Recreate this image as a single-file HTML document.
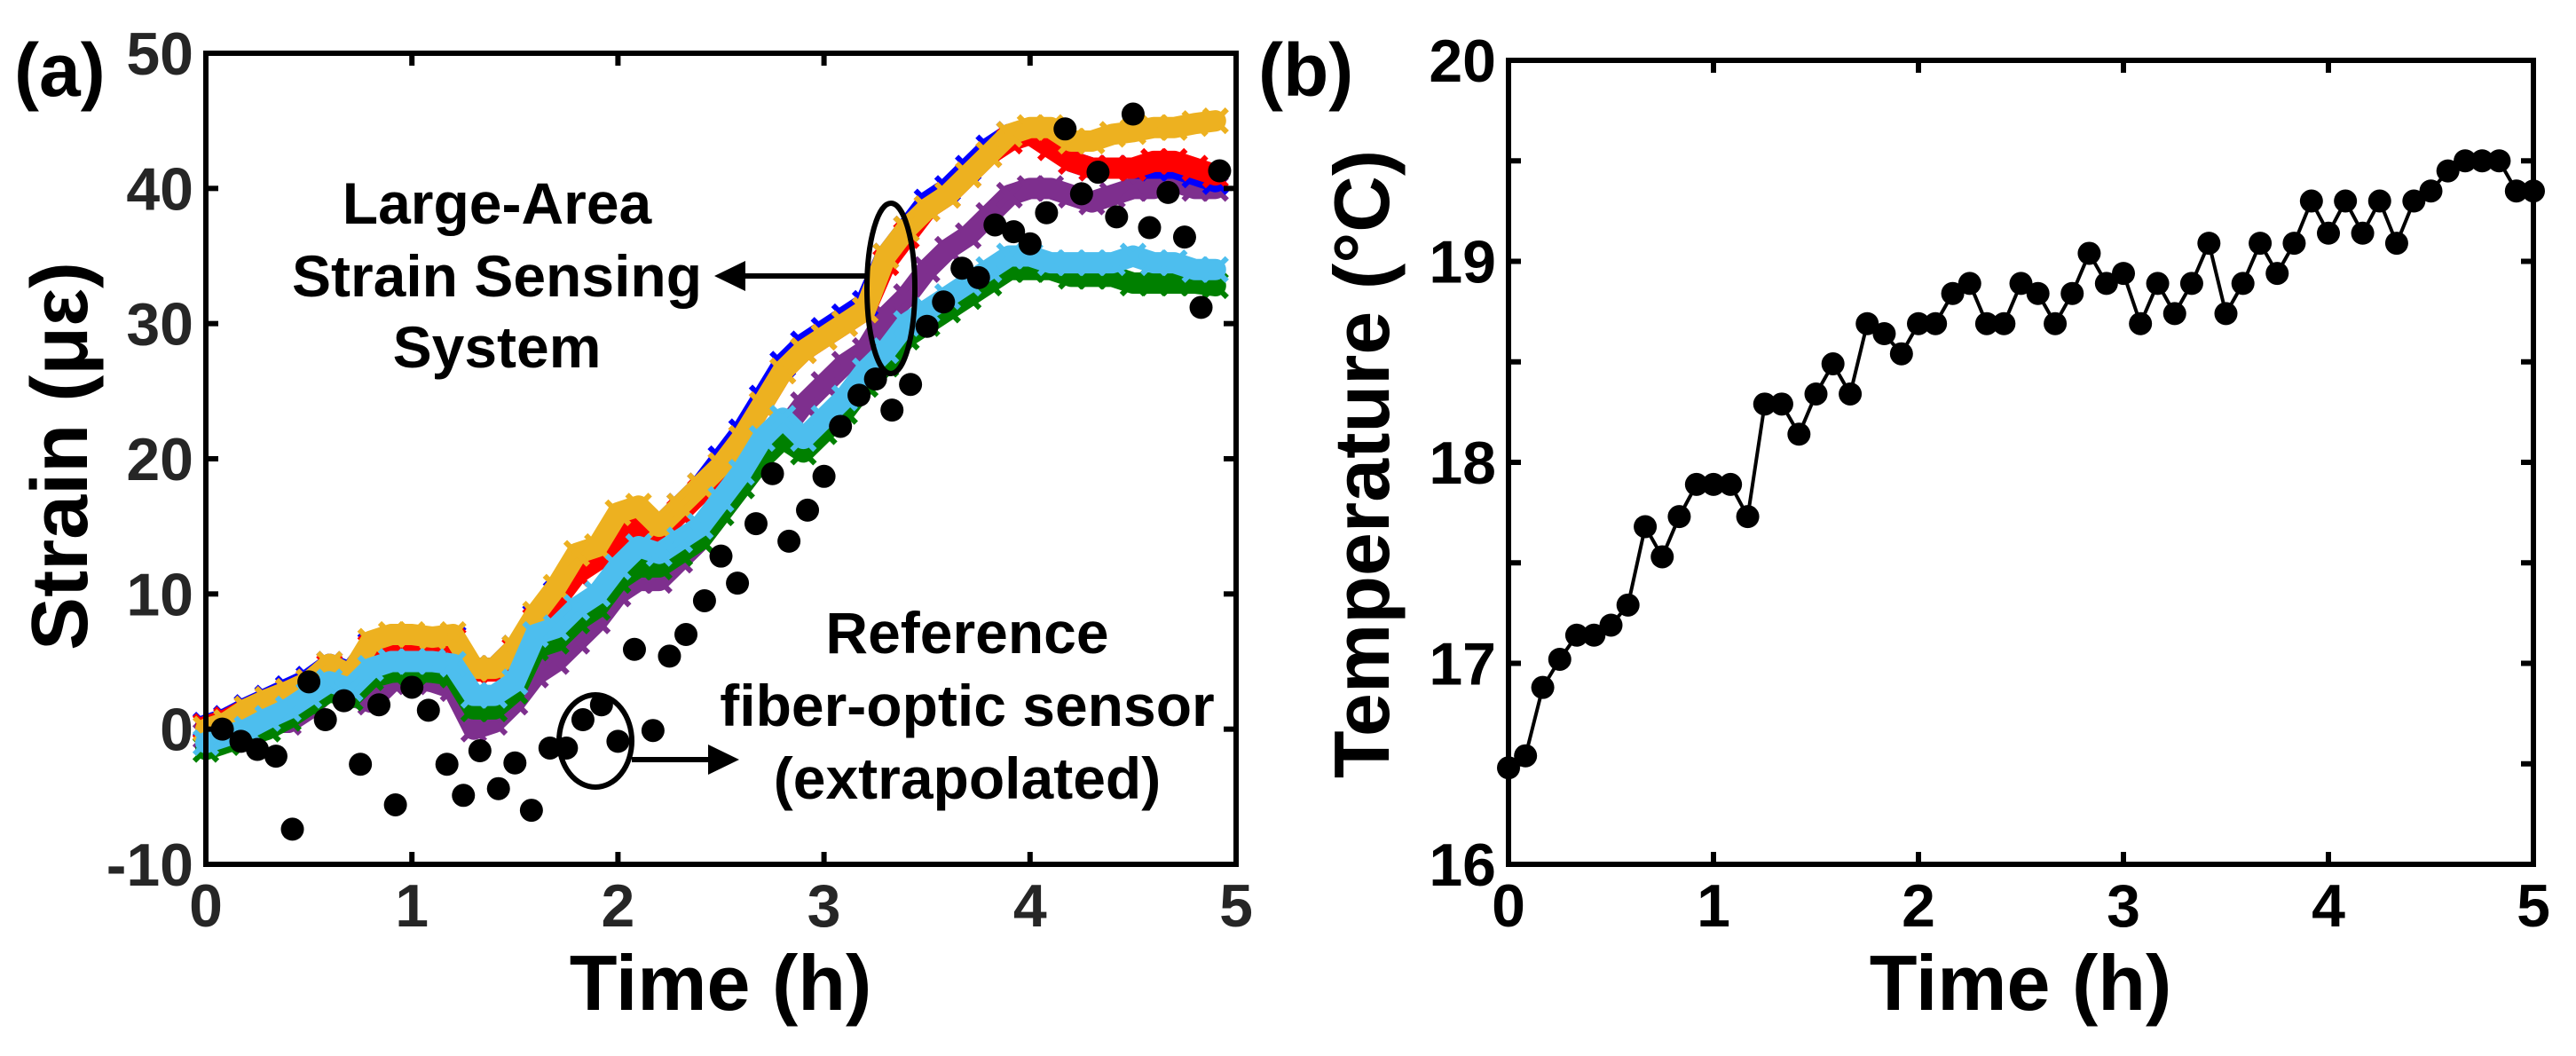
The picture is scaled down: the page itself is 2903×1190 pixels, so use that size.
<!DOCTYPE html>
<html><head><meta charset="utf-8"><style>
html,body{margin:0;padding:0;background:#fff;}
svg{display:block;font-family:"Liberation Sans",Arial,sans-serif;font-weight:bold;}
</style></head><body>
<svg id="fig" width="2903" height="1190" viewBox="0 0 2903 1190" xmlns="http://www.w3.org/2000/svg">
<g id="pa"></g>
<g id="pb"></g>
</svg>
<script>
const xTicks = [0,1,2,3,4,5];
const strainTicks = [-10,0,10,20,30,40,50];
const tempTicks = [16,17,18,19,20];
const tempMinor = [16.5,17.5,18.5,19.5];
const tSeries = [0,0.1,0.2,0.3,0.4,0.5,0.6,0.7,0.8,0.9,1.0,1.1,1.2,1.3,1.4,1.5,1.6,1.7,1.8,1.9,2.0,2.1,2.2,2.3,2.4,2.5,2.6,2.7,2.8,2.9,3.0,3.1,3.2,3.3,3.4,3.5,3.6,3.7,3.8,3.9,4.0,4.1,4.2,4.3,4.4,4.5,4.6,4.7,4.8,4.9];
const orangeVals = [0,0.5,1.5,2.2,2.8,3.5,4.8,4,6.5,7,7,6.8,7,4.5,4.5,6,8.5,10.5,13,13.5,16,16.5,15,16.5,18,19.5,21.5,24,26.5,28,29,30,31,35,37,38.5,39.5,41,42.5,44,44.5,44.5,43.5,43.5,44,44.2,44.5,44.5,44.8,45];
const redVals = [0.2,0.7,1.5,2.2,2.8,3.5,4.6,4,6,6.5,6.5,6.3,6.5,4.3,4.3,5.8,8,9.5,11.5,12.5,14,15,14.5,16,17.5,19.5,21.5,24,26.5,28,29,30,31,34.5,36.5,38.5,39.5,41,42.5,43.5,44,43,42,41.5,41.5,41.5,42,42,41.5,41];
const blueVals = [0.3,0.8,1.6,2.3,3,3.7,4.8,4.2,6.2,6.7,6.8,6.5,6.7,4.5,4.5,6,8.3,10,12,13,14.5,15.3,15,16.5,18,20,22,24.5,27,28.5,29.5,30.5,31.5,35,37,39,40,41.5,43,44,44,43.5,42,41.5,41.5,41.5,41.5,41.5,41,40.5];
const purpleVals = [-0.5,-0.3,0,0.5,0.5,1.5,3,2.5,2,3.5,3.8,3.5,3,0,0.5,2,4,5,6.5,8,10,11,11,12.5,14,16,18,20,22,24,25.5,27,28,30.5,32,34,35.5,36.5,38,39.5,40,40,39.5,39,39.5,40,40,40.5,40,40];
const cyanVals = [-1,-0.5,0,0.8,1.5,2.5,3.5,3,4.5,5,5,5,4.8,2.5,2.5,3.5,7,7.5,9,10,12,13.5,13,14,15,17,19,21.5,23,21.5,23,24.5,26.5,28,30,31,32,33,34,35,35,34.5,34.5,34.5,34.5,35,34.5,34.5,34,34];
const greenVals = [-1.5,-1,-0.5,0,0.8,1.8,2.8,2.3,3.8,4.2,4.3,4.2,4,1.5,1.5,2.8,6,6.5,8,9,11,12,12,13,14,16,18,20,21.5,20.5,22,23.5,25.5,27,29,30,31,32,33,34,34,34,33.5,33.5,33.5,33,33,33,33,32.8];
const refTimes = [0.08,0.17,0.25,0.34,0.42,0.5,0.58,0.67,0.75,0.84,0.92,1.0,1.08,1.17,1.25,1.33,1.42,1.5,1.58,1.67,1.75,1.83,1.92,2.0,2.08,2.17,2.25,2.33,2.42,2.5,2.58,2.67,2.75,2.83,2.92,3.0,3.08,3.17,3.25,3.33,3.42,3.5,3.58,3.67,3.75,3.83,3.92,4.0,4.08,4.17,4.25,4.33,4.42,4.5,4.58,4.67,4.75,4.83,4.92];
const refVals = [0,-0.9,-1.5,-2,-7.4,3.5,0.7,2.1,-2.6,1.8,-5.6,3.1,1.4,-2.6,-4.9,-1.6,-4.4,-2.5,-6,-1.4,-1.4,0.7,1.8,-0.9,5.9,-0.1,5.4,7,9.5,12.8,10.8,15.2,18.9,13.9,16.2,18.7,22.4,24.7,25.9,23.6,25.5,29.8,31.6,34.1,33.4,37.3,36.8,35.9,38.2,44.4,39.6,41.2,37.9,45.5,37.1,39.7,36.4,31.2,41.3];
const tempTimes = [0,0.083,0.167,0.25,0.333,0.417,0.5,0.583,0.667,0.75,0.833,0.917,1,1.083,1.167,1.25,1.333,1.417,1.5,1.583,1.667,1.75,1.833,1.917,2,2.083,2.167,2.25,2.333,2.417,2.5,2.583,2.667,2.75,2.833,2.917,3,3.083,3.167,3.25,3.333,3.417,3.5,3.583,3.667,3.75,3.833,3.917,4,4.083,4.167,4.25,4.333,4.417,4.5,4.583,4.667,4.75,4.833,4.917,5];
const tempVals = [16.48,16.54,16.88,17.02,17.14,17.14,17.19,17.29,17.68,17.53,17.73,17.89,17.89,17.89,17.73,18.29,18.29,18.14,18.34,18.49,18.34,18.69,18.64,18.54,18.69,18.69,18.84,18.89,18.69,18.69,18.89,18.84,18.69,18.84,19.04,18.89,18.94,18.69,18.89,18.74,18.89,19.09,18.74,18.89,19.09,18.94,19.09,19.30,19.14,19.30,19.14,19.30,19.09,19.30,19.35,19.45,19.50,19.50,19.50,19.35,19.35];

const NS='http://www.w3.org/2000/svg';
function mk(parent,tag,attrs,text){const e=document.createElementNS(NS,tag);for(const k in attrs)e.setAttribute(k,attrs[k]);if(text!==undefined)e.textContent=text;parent.appendChild(e);return e;}

const A={l:232,r:1393,t:60,b:974,x0:0,x1:5,y0:-10,y1:50};
const B={l:1700,r:2855,t:68,b:974,x0:0,x1:5,y0:16,y1:20};
function sx(P,v){return P.l+(v-P.x0)/(P.x1-P.x0)*(P.r-P.l);}
function sy(P,v){return P.b-(v-P.y0)/(P.y1-P.y0)*(P.b-P.t);}

const pa=document.getElementById('pa');
const pb=document.getElementById('pb');

const seriesList=[
 ['purple-series','#7E2F8E',purpleVals],
 ['green-series','#008000',greenVals],
 ['blue-series','#0000FF',blueVals],
 ['red-series','#FF0000',redVals],
 ['orange-series','#EDB120',orangeVals],
 ['lightblue-series','#4DBEEE',cyanVals]
];
seriesList.forEach(s=>{
 const g=mk(pa,'g',{});
 
 
 const pts=tSeries.map((t,i)=>sx(A,t)+','+sy(A,s[2][i])).join(' ');
 const pl=mk(g,'polyline',{points:pts,fill:'none',stroke:s[1],'stroke-width':24,'stroke-linejoin':'round','stroke-linecap':'round'});
 
 
 tSeries.forEach((t,i)=>{
  const x=sx(A,t),y=sy(A,s[2][i]),d=13;
  const m=mk(g,'path',{d:`M${x-d},${y-d}L${x+d},${y+d}M${x-d},${y+d}L${x+d},${y-d}`,stroke:s[1],'stroke-width':6,fill:'none'});
  
  
 });
});
const rg=mk(pa,'g',{});


refTimes.forEach((t,i)=>{
 const c=mk(rg,'circle',{cx:sx(A,t),cy:sy(A,refVals[i]),r:13,fill:'#000'});
 
 
});

function axes(P,parent,yt,minorY,tickColor){
 const f=mk(parent,'rect',{x:P.l,y:P.t,width:P.r-P.l,height:P.b-P.t,fill:'none',stroke:'#000','stroke-width':6});
 
 
 const tl=14;
 xTicks.forEach(v=>{
  const x=sx(P,v);
  if(v>P.x0&&v<P.x1){
   mk(parent,'line',{x1:x,y1:P.b,x2:x,y2:P.b-tl,stroke:'#000','stroke-width':6});
   mk(parent,'line',{x1:x,y1:P.t,x2:x,y2:P.t+tl,stroke:'#000','stroke-width':6});
  }
  const t=mk(parent,'text',{x:x,y:P.b+70,'text-anchor':'middle','font-size':68,fill:tickColor},String(v));
  
  
 });
 yt.concat(minorY).forEach(v=>{
  const y=sy(P,v);
  if(v>P.y0&&v<P.y1){
   mk(parent,'line',{x1:P.l,y1:y,x2:P.l+tl,y2:y,stroke:'#000','stroke-width':6});
   mk(parent,'line',{x1:P.r,y1:y,x2:P.r-tl,y2:y,stroke:'#000','stroke-width':6});
  }
 });
 yt.forEach(v=>{
  const t=mk(parent,'text',{x:P.l-14,y:sy(P,v)+24,'text-anchor':'end','font-size':68,fill:tickColor},String(v));
  
  
 });
}
axes(A,pa,strainTicks,[],'#262626');

let t;
t=mk(pa,'text',{x:812,y:1138,'text-anchor':'middle','font-size':88,fill:'#000'},'Time (h)');


t=mk(pa,'text',{x:0,y:0,'text-anchor':'middle','font-size':90,fill:'#000',transform:'translate(98,514) rotate(-90)'},'Strain (με)');


{
 const L=t.getComputedTextLength();
 if(L>0){ t.setAttribute('transform','translate(98,514) rotate(-90) scale('+(438/L)+',1)'); }
}
t=mk(pa,'text',{x:16,y:108,'font-size':84,fill:'#000'},'(a)');



const ann=mk(pa,'g',{});


[['Large-Area',252],['Strain Sensing',334],['System',414]].forEach(l=>{
 const e=mk(ann,'text',{x:560,y:l[1],'text-anchor':'middle','font-size':66,fill:'#000'},l[0]);
 
 
});
[['Reference',736],['fiber-optic sensor',818],['(extrapolated)',900]].forEach(l=>{
 const e=mk(ann,'text',{x:1090,y:l[1],'text-anchor':'middle','font-size':66,fill:'#000'},l[0]);
 
 
});
mk(ann,'ellipse',{cx:1004,cy:325,rx:27,ry:96,fill:'none',stroke:'#000','stroke-width':6});
mk(ann,'line',{x1:976,y1:311,x2:830,y2:311,stroke:'#000','stroke-width':6});
mk(ann,'polygon',{points:'805,311 840,294 840,328',fill:'#000'});
mk(ann,'ellipse',{cx:671,cy:835,rx:41,ry:52,fill:'none',stroke:'#000','stroke-width':6});
mk(ann,'line',{x1:712,y1:856,x2:808,y2:856,stroke:'#000','stroke-width':6});
mk(ann,'polygon',{points:'833,856 798,839 798,873',fill:'#000'});

axes(B,pb,tempTicks,tempMinor,'#000');
const tg=mk(pb,'g',{});


const tl=mk(tg,'polyline',{points:tempTimes.map((x,i)=>sx(B,x)+','+sy(B,tempVals[i])).join(' '),fill:'none',stroke:'#000','stroke-width':4});


tempTimes.forEach((x,i)=>{
 const c=mk(tg,'circle',{cx:sx(B,x),cy:sy(B,tempVals[i]),r:13,fill:'#000'});
 
 
});
t=mk(pb,'text',{x:2277,y:1138,'text-anchor':'middle','font-size':88,fill:'#000'},'Time (h)');


t=mk(pb,'text',{x:0,y:0,'text-anchor':'middle','font-size':88,fill:'#000',transform:'translate(1565,523) rotate(-90)'},'Temperature (°C)');


t=mk(pb,'text',{x:1418,y:108,'font-size':84,fill:'#000'},'(b)');


</script>
</body></html>
